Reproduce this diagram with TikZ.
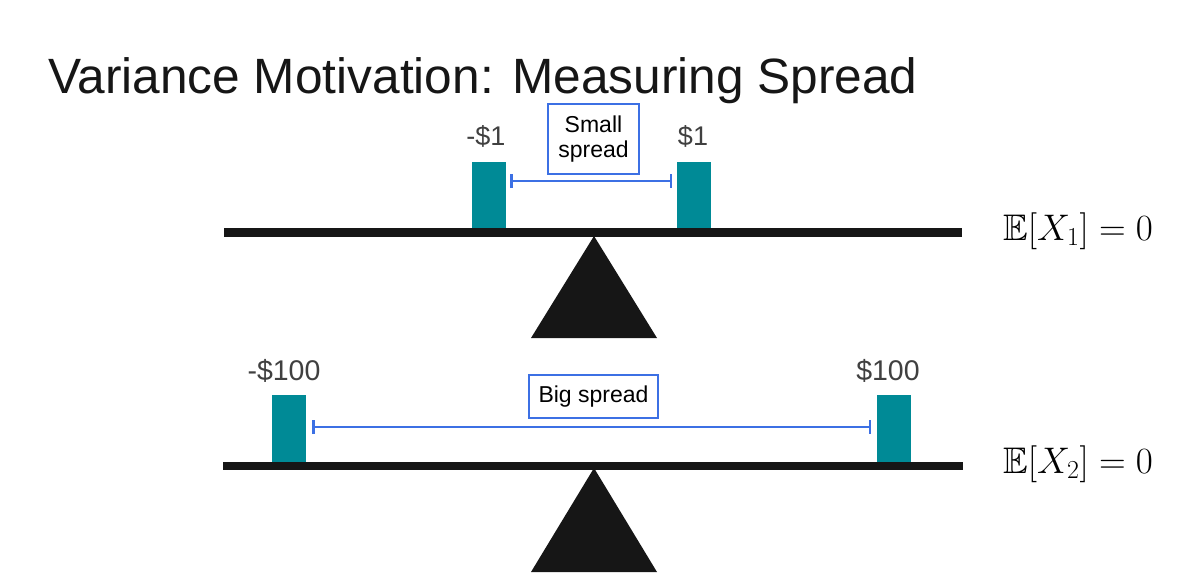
\RequirePackage{fix-cm}
\documentclass[tikz,border=0pt]{standalone}
\usepackage{amssymb}
\usepackage{fontspec}
\newfontfamily\arialf{Liberation Sans}
\usetikzlibrary{arrows.meta}
\definecolor{teal1}{RGB}{0,138,150}
\definecolor{blue1}{RGB}{60,112,228}
\definecolor{beam1}{RGB}{22,22,22}
\definecolor{lab1}{RGB}{64,64,64}
\tikzset{
  block/.style={fill=teal1, draw=none, inner sep=0, anchor=south west},
  beam/.style={fill=beam1, draw=none},
  fulcrum/.style={fill=beam1, draw=none},
  spreadbox/.style={draw=blue1, line width=2.5pt, fill=white, inner sep=0, align=center,
    font=\arialf\fontsize{23}{25}\selectfont},
  spreadline/.style={draw=blue1, line width=2.8pt, {Bar[width=14pt,line width=2.5pt]}-{Bar[width=14pt,line width=2.5pt]}},
  money/.style={text=lab1, inner sep=0, anchor=base},
  mathlab/.style={inner sep=0, anchor=base west, font=\fontsize{37}{40}\selectfont}
}
\begin{document}
\begin{tikzpicture}[x=1pt,y=-1pt]
\useasboundingbox (0,0) rectangle (1187,587);
% title
\node[inner sep=0, anchor=base west, font=\arialf\fontsize{49.6}{60}\selectfont, text=beam1] (title) at (48,93) {Variance Motivation: Measuring Spread};

% ---- top seesaw ----
\fill[fulcrum] (594,236) -- (657,338) -- (531,338) -- cycle;
\fill[beam] (224,228) rectangle (962,237);
\node[block, minimum width=34pt, minimum height=66pt] (tl) at (472,228) {};
\node[block, minimum width=34pt, minimum height=66pt] (tr) at (677,228) {};
\node[money, font=\arialf\fontsize{27}{30}\selectfont] (tll) at (486,145) {-\$1};
\node[money, font=\arialf\fontsize{27}{30}\selectfont] (trl) at (693,145) {\$1};
\coordinate (s1a) at (510,181);
\coordinate (s1b) at (672,181);
\draw[spreadline] (s1a) -- (s1b);
\node[spreadbox, minimum width=91pt, minimum height=70pt] (sbox) at (593.5,139) {Small\\spread};
\node[mathlab] (e1) at (1003,240) {$\mathbb{E}[X_1]=0$};

% ---- bottom seesaw ----
\fill[fulcrum] (594,468) -- (657,572) -- (531,572) -- cycle;
\fill[beam] (223,462) rectangle (963,470);
\node[block, minimum width=34pt, minimum height=67pt] (bl) at (272,462) {};
\node[block, minimum width=34pt, minimum height=67pt] (br) at (877,462) {};
\node[money, font=\arialf\fontsize{28.5}{32}\selectfont] (bll) at (284,380) {-\$100};
\node[money, font=\arialf\fontsize{28.5}{32}\selectfont] (brl) at (888,380) {\$100};
\coordinate (s2a) at (312,427);
\coordinate (s2b) at (871,427);
\draw[spreadline] (s2a) -- (s2b);
\node[spreadbox, minimum width=129pt, minimum height=43pt] (bbox) at (593.5,396.5) {Big spread};
\node[mathlab] (e2) at (1003,473) {$\mathbb{E}[X_2]=0$};
\end{tikzpicture}
\end{document}
